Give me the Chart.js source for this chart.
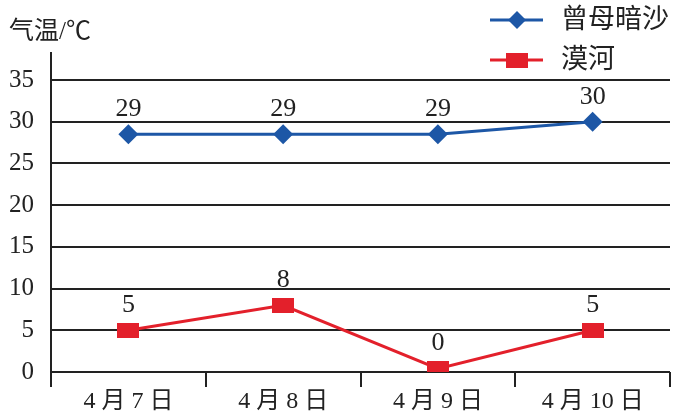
<!DOCTYPE html>
<html>
<head>
<meta charset="utf-8">
<script src="https://cdn.jsdelivr.net/npm/chart.js@4"></script>
<style>
  html, body { margin: 0; padding: 0; background: #fff; }
  #wrap { width: 681px; height: 414px; }
</style>
</head>
<body>
<div id="wrap"><canvas id="chart" width="681" height="414"></canvas></div>
<script>
const days = ['4 月 7 日', '4 月 8 日', '4 月 9 日', '4 月 10 日'];
const zengmuValues = [28.5, 28.5, 28.5, 30];
const zengmuLabels = ['29', '29', '29', '30'];
const moheValues = [5, 8, 0.4, 5];
const moheLabels = ['5', '8', '0', '5'];
const yTicks = [0, 5, 10, 15, 20, 25, 30, 35];

const blue = '#1d57a6';
const red = '#e3202b';
const serif = '"Liberation Serif", "Noto Sans CJK SC", serif';

// red marker is a flat rectangle, not a square
const redBox = document.createElement('canvas');
redBox.width = 22; redBox.height = 15;
const rb = redBox.getContext('2d');
rb.fillStyle = red;
rb.fillRect(0, 0, 22, 15);

const extras = {
    id: 'extras',
    afterDraw(chart) {
        const ctx = chart.ctx;
        const area = chart.chartArea;
        const x = chart.scales.x;
        const y = chart.scales.y;
        ctx.save();

        // y axis line runs past the top gridline and below the bottom
        ctx.strokeStyle = '#222';
        ctx.lineWidth = 2;
        ctx.beginPath();
        ctx.moveTo(area.left, area.top - 28);
        ctx.lineTo(area.left, area.bottom + 15);
        ctx.stroke();

        // axis title
        ctx.fillStyle = '#222';
        ctx.font = '25px ' + serif;
        ctx.textAlign = 'left';
        ctx.textBaseline = 'middle';
        ctx.fillText('气温/℃', 9, 32);

        // value labels above points
        ctx.font = '26px ' + serif;
        ctx.textAlign = 'center';
        ctx.textBaseline = 'middle';
        const sets = [[zengmuValues, zengmuLabels], [moheValues, moheLabels]];
        sets.forEach(([vals, labs]) => {
            vals.forEach((v, i) => {
                ctx.fillText(labs[i], x.getPixelForValue(i), y.getPixelForValue(v) - 25);
            });
        });

        // legend
        const items = [
            { text: '曾母暗沙', color: blue, yy: 20, marker: 'diamond' },
            { text: '漠河', color: red, yy: 60, marker: 'box' }
        ];
        items.forEach(it => {
            ctx.strokeStyle = it.color;
            ctx.lineWidth = 3;
            ctx.beginPath();
            ctx.moveTo(490, it.yy);
            ctx.lineTo(543, it.yy);
            ctx.stroke();
            ctx.fillStyle = it.color;
            if (it.marker === 'diamond') {
                ctx.beginPath();
                ctx.moveTo(517, it.yy - 9);
                ctx.lineTo(526, it.yy);
                ctx.lineTo(517, it.yy + 9);
                ctx.lineTo(508, it.yy);
                ctx.closePath();
                ctx.fill();
            } else {
                ctx.fillRect(506, it.yy - 7, 22, 15);
            }
            ctx.fillStyle = '#222';
            ctx.font = '27px ' + serif;
            ctx.textAlign = 'left';
            ctx.fillText(it.text, 561, it.yy + 1);
        });
        ctx.restore();
    }
};

new Chart(document.getElementById('chart'), {
    type: 'line',
    data: {
        labels: days,
        datasets: [
            {
                label: '曾母暗沙',
                data: zengmuValues,
                borderColor: blue,
                backgroundColor: blue,
                borderWidth: 3,
                pointStyle: 'rectRot',
                pointRadius: 10,
                pointBorderWidth: 0,
                tension: 0
            },
            {
                label: '漠河',
                data: moheValues,
                borderColor: red,
                backgroundColor: red,
                borderWidth: 3,
                pointStyle: redBox,
                tension: 0
            }
        ]
    },
    options: {
        responsive: false,
        animation: false,
        layout: { padding: { top: 80, right: 11, left: 0, bottom: 0 } },
        plugins: { legend: { display: false }, tooltip: { enabled: false } },
        scales: {
            x: {
                offset: true,
                grid: {
                    offset: true,
                    drawOnChartArea: false,
                    drawTicks: true,
                    tickLength: 15,
                    color: '#222',
                    lineWidth: 2
                },
                border: { display: false },
                ticks: {
                    color: '#222',
                    font: { family: serif, size: 24 },
                    padding: 0,
                    maxRotation: 0
                },
                afterFit(scale) { scale.height = 42; }
            },
            y: {
                min: 0,
                max: 35,
                afterBuildTicks(scale) { scale.ticks = yTicks.map(v => ({ value: v })); },
                grid: { color: '#222', lineWidth: 2, drawTicks: false },
                border: { display: false },
                ticks: {
                    color: '#222',
                    font: { family: serif, size: 25 },
                    padding: 17
                },
                afterFit(scale) { scale.width = 51; }
            }
        }
    },
    plugins: [extras]
});
</script>
</body>
</html>
